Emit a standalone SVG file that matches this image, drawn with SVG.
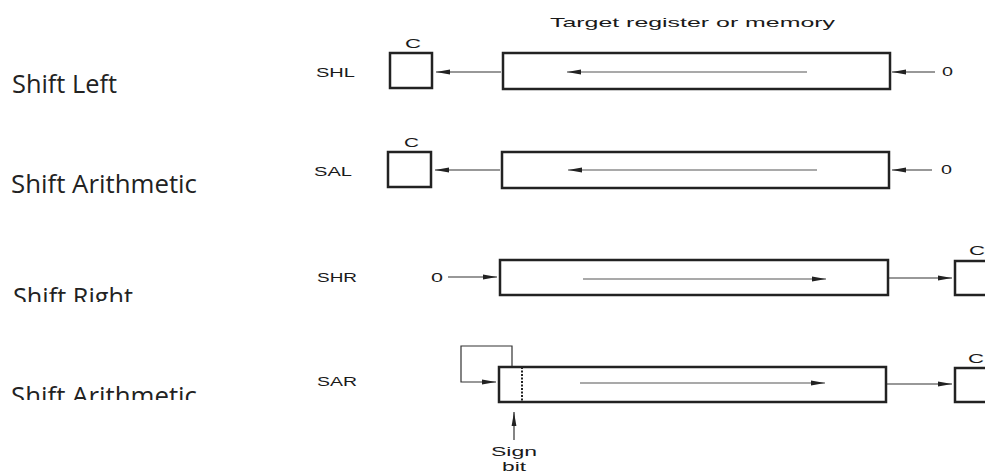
<svg xmlns="http://www.w3.org/2000/svg" width="985" height="476" viewBox="0 0 985 476">
<style>
.lbl{font-family:"Open Sans","Noto Sans",sans-serif;font-size:25px;fill:#222}
.t{font-family:"Liberation Sans",Arial,sans-serif;font-size:13px;fill:#1a1a1a}
.reg{fill:#fff;stroke:#222;stroke-width:2.5}
.ln{fill:none;stroke:#333;stroke-width:1.2}
.inner{fill:none;stroke:#555;stroke-width:1.2}
</style>
<defs>
<marker id="ah" markerUnits="userSpaceOnUse" markerWidth="16" markerHeight="8" refX="14" refY="3" orient="auto">
<path d="M0,0.6 L14,3 L0,5.4 Z" fill="#222"/>
</marker>
<clipPath id="clipR"><rect x="0" y="0" width="300" height="302"/></clipPath>
<clipPath id="clipA"><rect x="0" y="0" width="300" height="400"/></clipPath>
</defs>

<g id="labels">
<text class="lbl" x="12" y="93" textLength="105" lengthAdjust="spacingAndGlyphs">Shift Left</text>
<text class="lbl" x="11" y="193" textLength="186" lengthAdjust="spacingAndGlyphs">Shift Arithmetic</text>
<text class="lbl" x="13" y="306" textLength="120" lengthAdjust="spacingAndGlyphs" clip-path="url(#clipR)">Shift Right</text>
<text class="lbl" x="11" y="405" textLength="186" lengthAdjust="spacingAndGlyphs" clip-path="url(#clipA)">Shift Arithmetic</text>
</g>

<g id="title">
<text class="t" x="550" y="27" font-size="14.5" textLength="285" lengthAdjust="spacingAndGlyphs">Target register or memory</text>
</g>

<g id="row-shl">
<text class="t" x="316" y="76.5" textLength="39" lengthAdjust="spacingAndGlyphs">SHL</text>
<rect class="reg" x="390" y="53" width="42" height="35"/>
<text class="t" x="405" y="48" textLength="16" lengthAdjust="spacingAndGlyphs">C</text>
<rect class="reg" x="503" y="53" width="387" height="36"/>
<text class="t" x="942" y="76" textLength="11" lengthAdjust="spacingAndGlyphs">0</text>
</g>

<g id="row-sal">
<text class="t" x="314" y="175.5" textLength="38" lengthAdjust="spacingAndGlyphs">SAL</text>
<rect class="reg" x="388" y="152" width="43" height="35"/>
<text class="t" x="404" y="147" textLength="15" lengthAdjust="spacingAndGlyphs">C</text>
<rect class="reg" x="502" y="152" width="387" height="36"/>
<text class="t" x="941" y="174" textLength="11" lengthAdjust="spacingAndGlyphs">0</text>
</g>

<g id="row-shr">
<text class="t" x="317" y="282" textLength="40" lengthAdjust="spacingAndGlyphs">SHR</text>
<text class="t" x="431" y="282" textLength="12" lengthAdjust="spacingAndGlyphs">0</text>
<rect class="reg" x="500" y="260" width="388" height="35"/>
<rect class="reg" x="955" y="261" width="50" height="34"/>
<text class="t" x="969" y="255" textLength="16" lengthAdjust="spacingAndGlyphs">C</text>
</g>

<g id="row-sar">
<text class="t" x="317" y="386" textLength="40" lengthAdjust="spacingAndGlyphs">SAR</text>
<rect class="reg" x="499" y="367" width="387" height="35"/>
<line x1="522" y1="367" x2="522" y2="402" stroke="#222" stroke-width="2" stroke-dasharray="2,1.5"/>
<rect class="reg" x="955" y="368" width="50" height="34"/>
<text class="t" x="968" y="363" textLength="16" lengthAdjust="spacingAndGlyphs">C</text>
<text class="t" x="514" y="456" text-anchor="middle" textLength="46" lengthAdjust="spacingAndGlyphs">Sign</text>
<text class="t" x="514" y="471" text-anchor="middle" textLength="24" lengthAdjust="spacingAndGlyphs">bit</text>
</g>

<g id="connectors">
<line class="ln" x1="501" y1="72" x2="436" y2="72" marker-end="url(#ah)"/>
<line class="inner" x1="807" y1="72" x2="567" y2="72" marker-end="url(#ah)"/>
<line class="ln" x1="935" y1="72" x2="892" y2="72" marker-end="url(#ah)"/>

<line class="ln" x1="500" y1="170" x2="435" y2="170" marker-end="url(#ah)"/>
<line class="inner" x1="817" y1="170" x2="568" y2="170" marker-end="url(#ah)"/>
<line class="ln" x1="932" y1="170" x2="892" y2="170" marker-end="url(#ah)"/>

<line class="ln" x1="448" y1="277" x2="497" y2="277" marker-end="url(#ah)"/>
<line class="inner" x1="583" y1="279" x2="826" y2="279" marker-end="url(#ah)"/>
<line class="ln" x1="889" y1="278" x2="952" y2="278" marker-end="url(#ah)"/>

<path class="ln" d="M512,366 V346 H461 V382 H496" marker-end="url(#ah)"/>
<line class="inner" x1="580" y1="383" x2="825" y2="383" marker-end="url(#ah)"/>
<line class="ln" x1="887" y1="384" x2="952" y2="384" marker-end="url(#ah)"/>
<line class="ln" x1="514" y1="440" x2="514" y2="412" marker-end="url(#ah)"/>
</g>
</svg>
